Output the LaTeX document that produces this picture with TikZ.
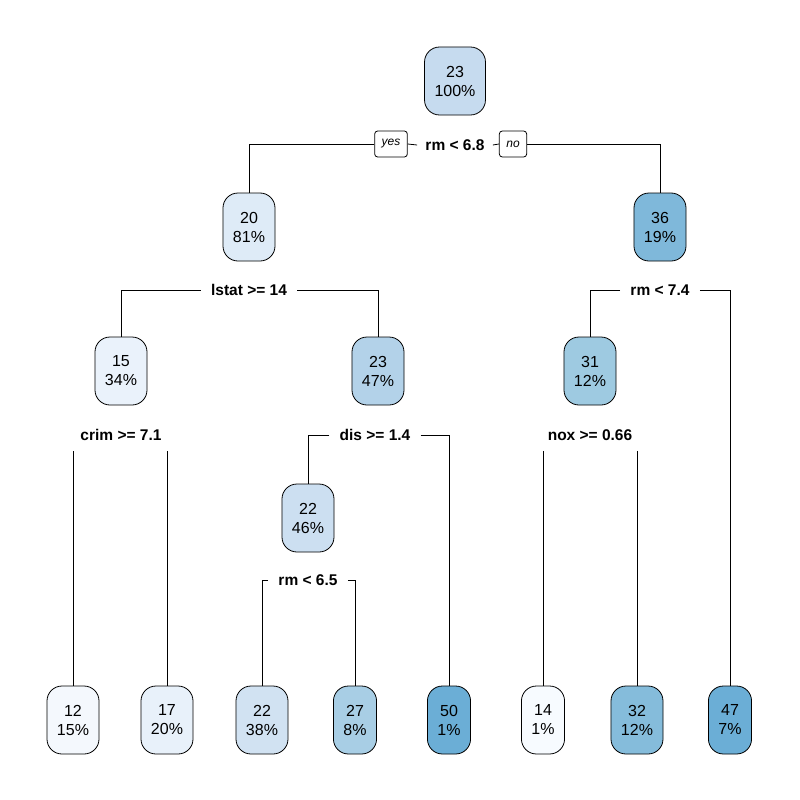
\documentclass[tikz,border=0pt]{standalone}
\usepackage{fontspec}
\setmainfont{Liberation Sans}
\definecolor{bRoot}{HTML}{C6DBEF}
\definecolor{bTwenty}{HTML}{DEEBF7}
\definecolor{bThirtysix}{HTML}{7FB8DA}
\definecolor{bFifteen}{HTML}{EAF2FB}
\definecolor{bTwentythree}{HTML}{B3D2E9}
\definecolor{bThirtyone}{HTML}{9ECAE1}
\definecolor{bTwentytwo}{HTML}{CCDFF1}
\definecolor{bTwelve}{HTML}{F4F8FD}
\definecolor{bSeventeen}{HTML}{E8F1FA}
\definecolor{bTwentytwoB}{HTML}{D1E2F2}
\definecolor{bTwentyseven}{HTML}{A8CEE5}
\definecolor{bFifty}{HTML}{6BAED6}
\definecolor{bFourteen}{HTML}{F7FBFF}
\definecolor{bThirtytwo}{HTML}{85BCDB}
\definecolor{bFortyseven}{HTML}{6BAED6}
\begin{document}
\begin{tikzpicture}[x=1pt,y=-1pt,line width=0.8pt,
  box/.style={draw,rounded corners=15pt,align=center,font=\fontsize{16}{19}\selectfont,
    inner xsep=10pt,minimum height=68pt},
  rule/.style={fill=white,font=\fontsize{15.5}{18}\selectfont\bfseries,inner xsep=8pt,inner ysep=2pt},
  yesno/.style={draw,fill=white,rounded corners=3pt,font=\fontsize{12}{14}\selectfont\itshape,
    minimum height=26pt,inner xsep=7pt}]
  \useasboundingbox[fill=white] (0,0) rectangle (800,800);
  \node[box,fill=bRoot] (n1) at (455,81) {23\\100\%};
  \node[box,fill=bTwenty] (n2) at (249,227) {20\\81\%};
  \node[box,fill=bThirtysix] (n3) at (660,227) {36\\19\%};
  \node[box,fill=bFifteen] (n4) at (121,371) {15\\34\%};
  \node[box,fill=bTwentythree] (n5) at (378,371) {23\\47\%};
  \node[box,fill=bThirtyone] (n6) at (590,371) {31\\12\%};
  \node[box,fill=bTwentytwo] (n7) at (308,518) {22\\46\%};
  \node[box,fill=bTwelve] (l1) at (73,720) {12\\15\%};
  \node[box,fill=bSeventeen] (l2) at (167,720) {17\\20\%};
  \node[box,fill=bTwentytwoB] (l3) at (262,720) {22\\38\%};
  \node[box,fill=bTwentyseven] (l4) at (355,720) {27\\8\%};
  \node[box,fill=bFifty] (l5) at (449,720) {50\\1\%};
  \node[box,fill=bFourteen] (l6) at (543,720) {14\\1\%};
  \node[box,fill=bThirtytwo] (l7) at (637,720) {32\\12\%};
  \node[box,fill=bFortyseven] (l8) at (730,720) {47\\7\%};
  \node[rule] (s1) at (455,145) {rm < 6.8};
  \node[yesno] (yes) at (391,144) {yes};
  \node[yesno] (no) at (513,144) {no};
  \node[rule,inner xsep=10pt] (s2) at (249,290) {lstat >= 14};
  \node[rule,inner xsep=10pt] (s3) at (660,290) {rm < 7.4};
  \node[rule] (s4) at (121,435) {crim >= 7.1};
  \node[rule,inner xsep=10pt] (s5) at (375,435) {dis >= 1.4};
  \node[rule] (s6) at (590,435) {nox >= 0.66};
  \node[rule,inner xsep=10pt] (s7) at (308,580) {rm < 6.5};
  \draw (yes.west) -| (n2.north);
  \draw (yes.east) -- (s1.west);
  \draw (s1.east) -- (no.west);
  \draw (no.east) -| (n3.north);
  \draw (s2.west) -| (n4.north);
  \draw (s2.east) -| (n5.north);
  \draw (s3.west) -| (n6.north);
  \draw (s3.east) -| (l8.north);
  \draw ([yshift=-8pt]s4.south -| l1.north) -- (l1.north);
  \draw ([yshift=-8pt]s4.south -| l2.north) -- (l2.north);
  \draw (s5.west) -| (n7.north);
  \draw (s5.east) -| (l5.north);
  \draw ([yshift=-8pt]s6.south -| l6.north) -- (l6.north);
  \draw ([yshift=-8pt]s6.south -| l7.north) -- (l7.north);
  \draw (s7.west) -| (l3.north);
  \draw (s7.east) -| (l4.north);
\end{tikzpicture}
\end{document}
